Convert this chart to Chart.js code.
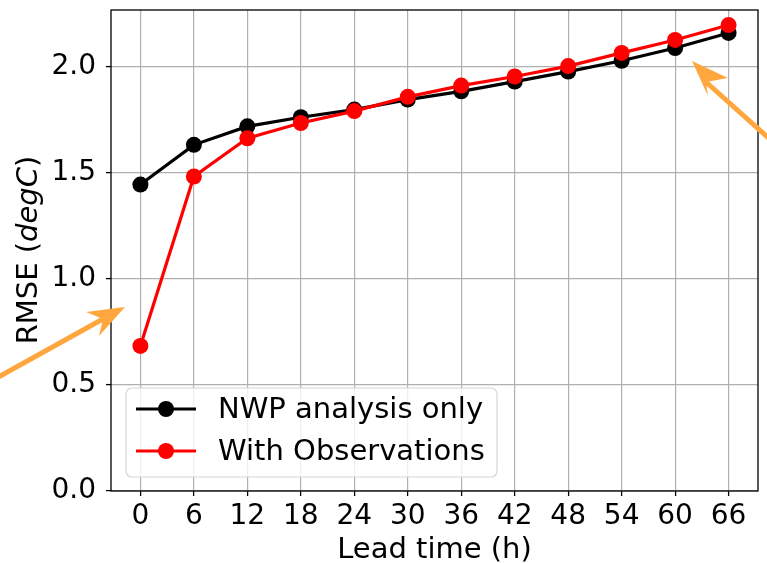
<!DOCTYPE html>
<html>
<head>
<meta charset="utf-8">
<script src="https://cdn.jsdelivr.net/npm/chart.js@4.4.1/dist/chart.umd.min.js"></script>
<style>
  html, body { margin: 0; padding: 0; background: #fff; }
</style>
</head>
<body>
<canvas id="rmseChart" width="767" height="563"></canvas>
<script>
// values
const leadTimes = [0, 6, 12, 18, 24, 30, 36, 42, 48, 54, 60, 66];
const nwpOnly   = [1.443, 1.630, 1.717, 1.760, 1.796, 1.843, 1.882, 1.928, 1.975, 2.026, 2.086, 2.157];
const withObs   = [0.683, 1.481, 1.661, 1.733, 1.789, 1.856, 1.909, 1.952, 2.001, 2.063, 2.124, 2.194];
const seriesLabels = ['NWP analysis only', 'With Observations'];
const xTicks = [0, 6, 12, 18, 24, 30, 36, 42, 48, 54, 60, 66];
const yTicks = [0.0, 0.5, 1.0, 1.5, 2.0];

const FONT = "'DejaVu Sans', sans-serif";
const FS = 28;      // tick labels
const FS_TEXT = 29; // legend and axis titles

function toPoints(ys) {
    return leadTimes.map((x, i) => ({ x: x, y: ys[i] }));
}

function arrow(ctx, tail, tip, barbA, notch, barbB) {
    ctx.save();
    ctx.strokeStyle = '#ffa73e';
    ctx.fillStyle = '#ffa73e';
    ctx.lineWidth = 5;
    ctx.beginPath();
    ctx.moveTo(tail[0], tail[1]);
    ctx.lineTo(notch[0], notch[1]);
    ctx.stroke();
    ctx.beginPath();
    ctx.moveTo(tip[0], tip[1]);
    ctx.lineTo(barbA[0], barbA[1]);
    ctx.lineTo(notch[0], notch[1]);
    ctx.lineTo(barbB[0], barbB[1]);
    ctx.closePath();
    ctx.fill();
    ctx.restore();
}

const extras = {
    id: 'extras',
    afterDatasetsDraw(chart) {
        const ctx = chart.ctx;
        const a = chart.chartArea;

        // axes box
        ctx.save();
        ctx.strokeStyle = '#000';
        ctx.lineWidth = 1.3;
        ctx.strokeRect(a.left, a.top, a.right - a.left, a.bottom - a.top);
        ctx.restore();

        // legend
        const lx = 126, ly = 388, lw = 371, lh = 89;
        ctx.save();
        ctx.fillStyle = 'rgba(255,255,255,0.8)';
        ctx.strokeStyle = '#d6d6d6';
        ctx.lineWidth = 1.2;
        ctx.beginPath();
        ctx.roundRect(lx, ly, lw, lh, 6);
        ctx.fill();
        ctx.stroke();
        ctx.font = FS_TEXT + 'px ' + FONT;
        ctx.textBaseline = 'middle';
        chart.data.datasets.forEach((ds, i) => {
            const y = 409 + i * 42;
            ctx.strokeStyle = ds.borderColor;
            ctx.lineWidth = 3.2;
            ctx.beginPath();
            ctx.moveTo(136, y);
            ctx.lineTo(196, y);
            ctx.stroke();
            ctx.fillStyle = ds.backgroundColor;
            ctx.beginPath();
            ctx.arc(166, y, 8, 0, Math.PI * 2);
            ctx.fill();
            ctx.fillStyle = '#000';
            ctx.fillText(ds.label, 218, y + 1);
        });
        ctx.restore();

        // axis titles
        ctx.save();
        ctx.fillStyle = '#000';
        ctx.textBaseline = 'alphabetic';
        ctx.font = FS_TEXT + 'px ' + FONT;
        ctx.textAlign = 'center';
        ctx.fillText('Lead time (h)', (a.left + a.right) / 2, 558);

        ctx.translate(37, 250);
        ctx.rotate(-Math.PI / 2);
        const parts = [['RMSE (', ''], ['degC', 'italic '], [')', '']];
        let total = 0;
        parts.forEach(p => { ctx.font = p[1] + FS_TEXT + 'px ' + FONT; total += ctx.measureText(p[0]).width; });
        let x = -total / 2;
        ctx.textAlign = 'left';
        parts.forEach(p => {
            ctx.font = p[1] + FS_TEXT + 'px ' + FONT;
            ctx.fillText(p[0], x, 0);
            x += ctx.measureText(p[0]).width;
        });
        ctx.restore();

        // annotation arrows
        arrow(ctx, [-5, 379], [125, 307], [86, 312], [103, 319], [99, 336]);
        arrow(ctx, [772, 141], [692, 61], [728, 78], [706, 82], [708, 96]);
    }
};

const ctx = document.getElementById('rmseChart').getContext('2d');
const rmseChart = new Chart(ctx, {
    type: 'line',
    data: {
        datasets: [{
            label: seriesLabels[0],
            data: toPoints(nwpOnly),
            borderColor: '#000000',
            backgroundColor: '#000000',
            borderWidth: 3.2,
            pointRadius: 8,
            pointBorderWidth: 0,
            order: 1
        }, {
            label: seriesLabels[1],
            data: toPoints(withObs),
            borderColor: '#ff0000',
            backgroundColor: '#ff0000',
            borderWidth: 3.2,
            pointRadius: 8,
            pointBorderWidth: 0,
            order: 0
        }]
    },
    options: {
        responsive: false,
        animation: false,
        devicePixelRatio: 1,
        layout: { padding: { top: 10, right: 9, left: 0, bottom: 0 } },
        plugins: { legend: { display: false }, tooltip: { enabled: false } },
        scales: {
            x: {
                type: 'linear',
                min: -3.3,
                max: 69.3,
                afterBuildTicks: scale => { scale.ticks = xTicks.map(v => ({ value: v })); },
                afterFit: scale => {
                    scale.height = 72;
                    scale.paddingLeft = 0;
                    scale.paddingRight = 0;
                },
                ticks: {
                    font: { family: FONT, size: FS },
                    color: '#000',
                    padding: 4,
                    maxRotation: 0,
                    autoSkip: false
                },
                grid: { color: '#b0b0b0', lineWidth: 1.2, tickLength: 5, tickColor: '#000', tickWidth: 1.3 },
                border: { display: false }
            },
            y: {
                type: 'linear',
                min: 0,
                max: 2.265,
                afterBuildTicks: scale => { scale.ticks = yTicks.map(v => ({ value: v })); },
                afterFit: scale => {
                    scale.width = 111;
                    scale.paddingTop = 0;
                    scale.paddingBottom = 0;
                },
                ticks: {
                    font: { family: FONT, size: FS },
                    color: '#000',
                    padding: 10,
                    callback: v => v.toFixed(1)
                },
                grid: { color: '#b0b0b0', lineWidth: 1.2, tickLength: 5, tickColor: '#000', tickWidth: 1.3 },
                border: { display: false }
            }
        }
    },
    plugins: [extras]
});
</script>
</body>
</html>
